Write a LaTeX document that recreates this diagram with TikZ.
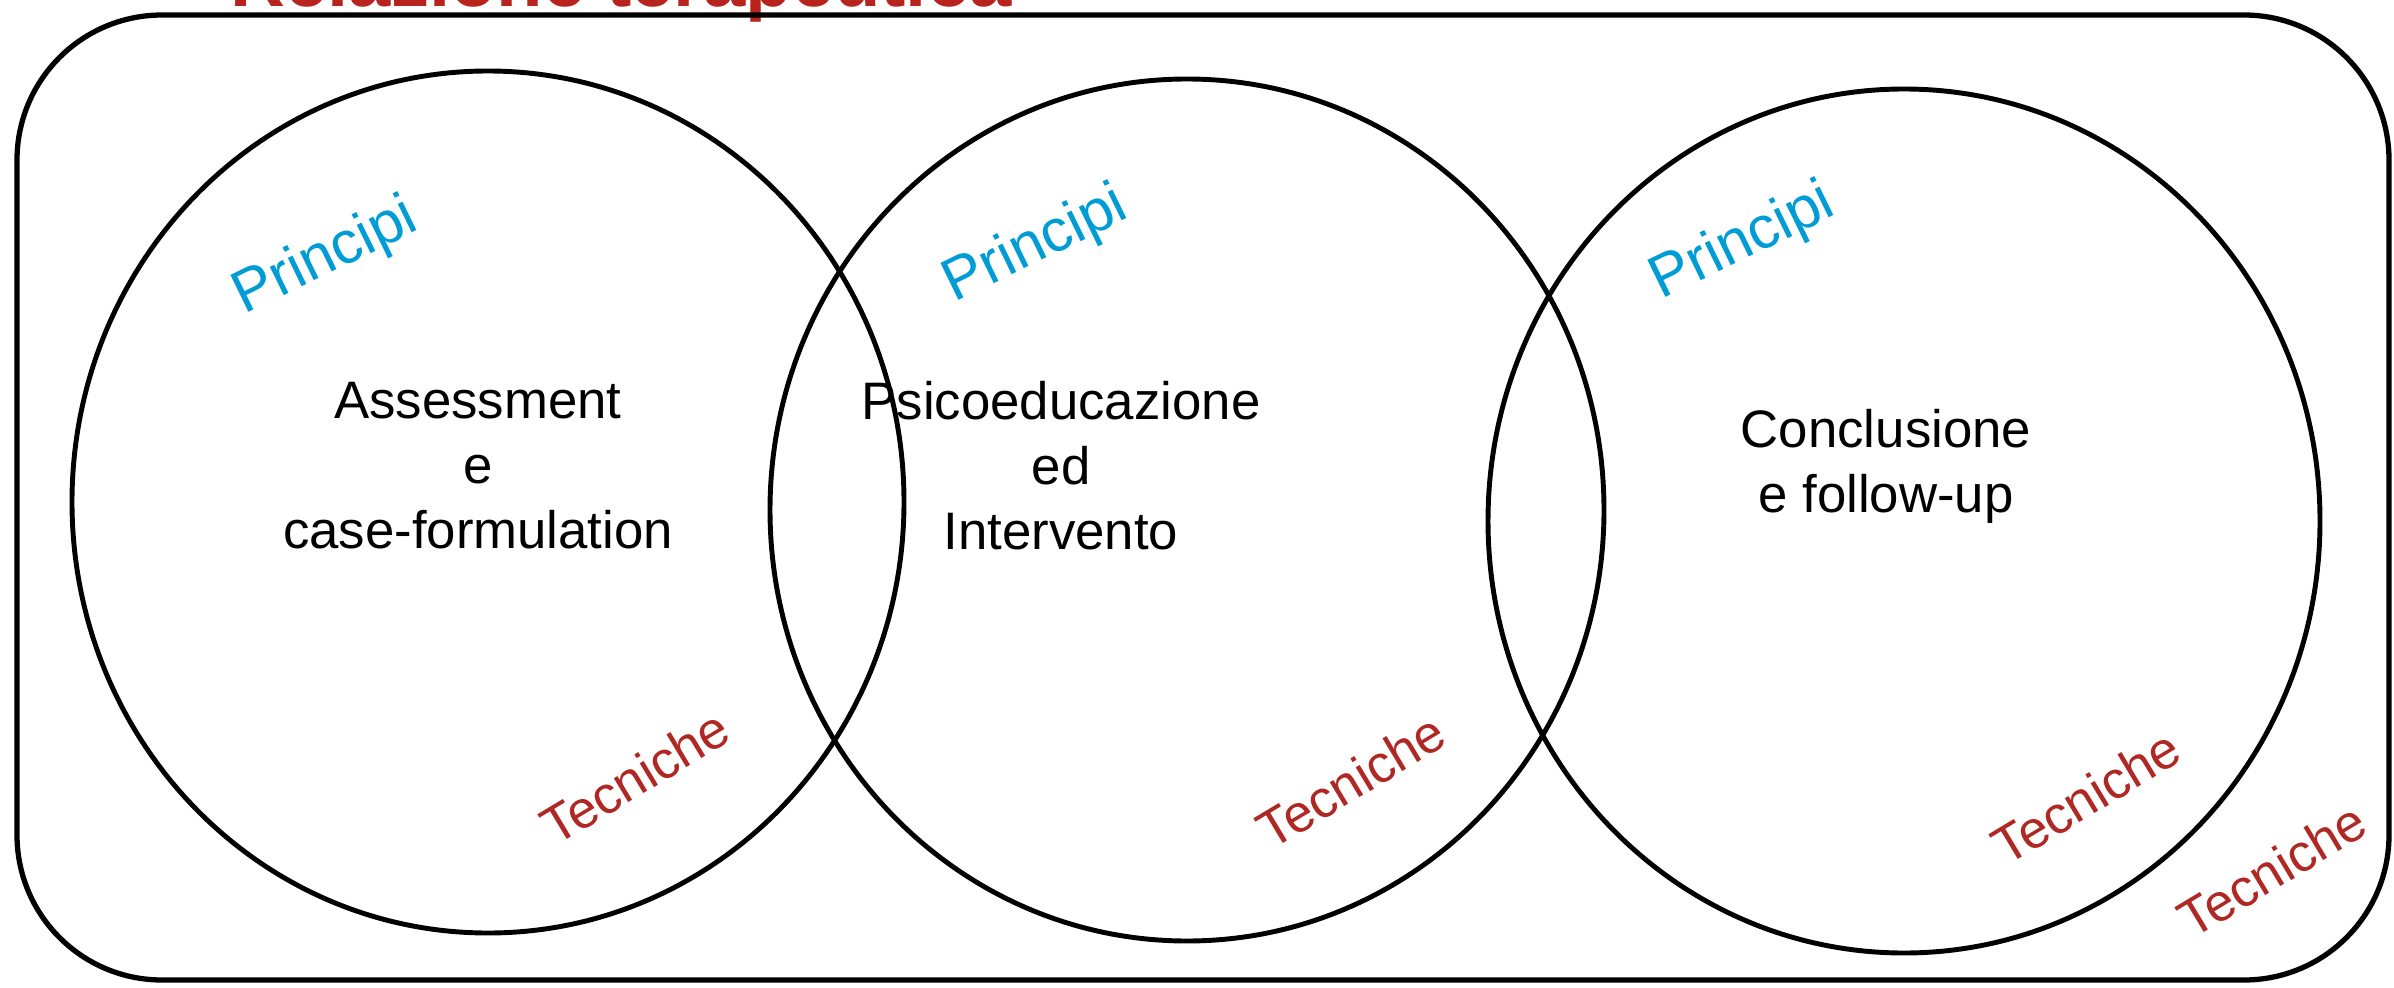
\documentclass[tikz,border=0pt]{standalone}
\usepackage{fontspec}
\setmainfont{Liberation Sans}
\usetikzlibrary{positioning}

\definecolor{titlered}{RGB}{185,35,30}
\definecolor{principiblue}{RGB}{0,156,214}
\definecolor{tecnichered}{RGB}{175,40,35}

\begin{document}
\begin{tikzpicture}[x=0.01cm, y=-0.01cm,
    fase/.style={align=center, font=\fontsize{15}{18.5}\selectfont},
    principio/.style={text=principiblue, rotate=26, font=\fontsize{17}{20}\selectfont},
    tecnica/.style={text=tecnichered, rotate=31, font=\fontsize{15}{18}\selectfont}]
        \useasboundingbox (0,0) rectangle (2394,988);

        % Title (cut by the top edge)
        \node[anchor=base west, inner sep=0pt, text=titlered, font=\fontsize{21.6}{24}\selectfont\bfseries] (titolo) at (230,7) {Relazione terapeutica};

        % Outer frame
        \draw[line width=1.5pt, rounded corners=1.45cm] (17,15) rectangle (2389,980);

        % Three phases
        \draw[line width=1.4pt] (488,502) ellipse (416 and 431);
        \draw[line width=1.4pt] (1187,510) ellipse (417 and 431);
        \draw[line width=1.4pt] (1904,521) ellipse (416 and 432);

        % Phase labels
        \node[fase] (assess) at (478,466) {Assessment\\e\\case-formulation};
        \node[fase] (psico) at (1061,466) {Psicoeducazione\\ed\\Intervento};
        \node[fase] (concl) at (1886,466) {Conclusione\\e follow-up};

        % Principi
        \node[principio] (princ1) at (326,258) {Principi};
        \node[principio] (princ2) at (1036,246) {Principi};
        \node[principio] (princ3) at (1743,243) {Principi};

        % Tecniche
        \node[tecnica] (tecn1) at (635,777) {Tecniche};
        \node[tecnica] (tecn2) at (1351,781) {Tecniche};
        \node[tecnica] (tecn3) at (2086,797) {Tecniche};
        \node[tecnica] (tecn4) at (2272,870) {Tecniche};
\end{tikzpicture}
\end{document}
